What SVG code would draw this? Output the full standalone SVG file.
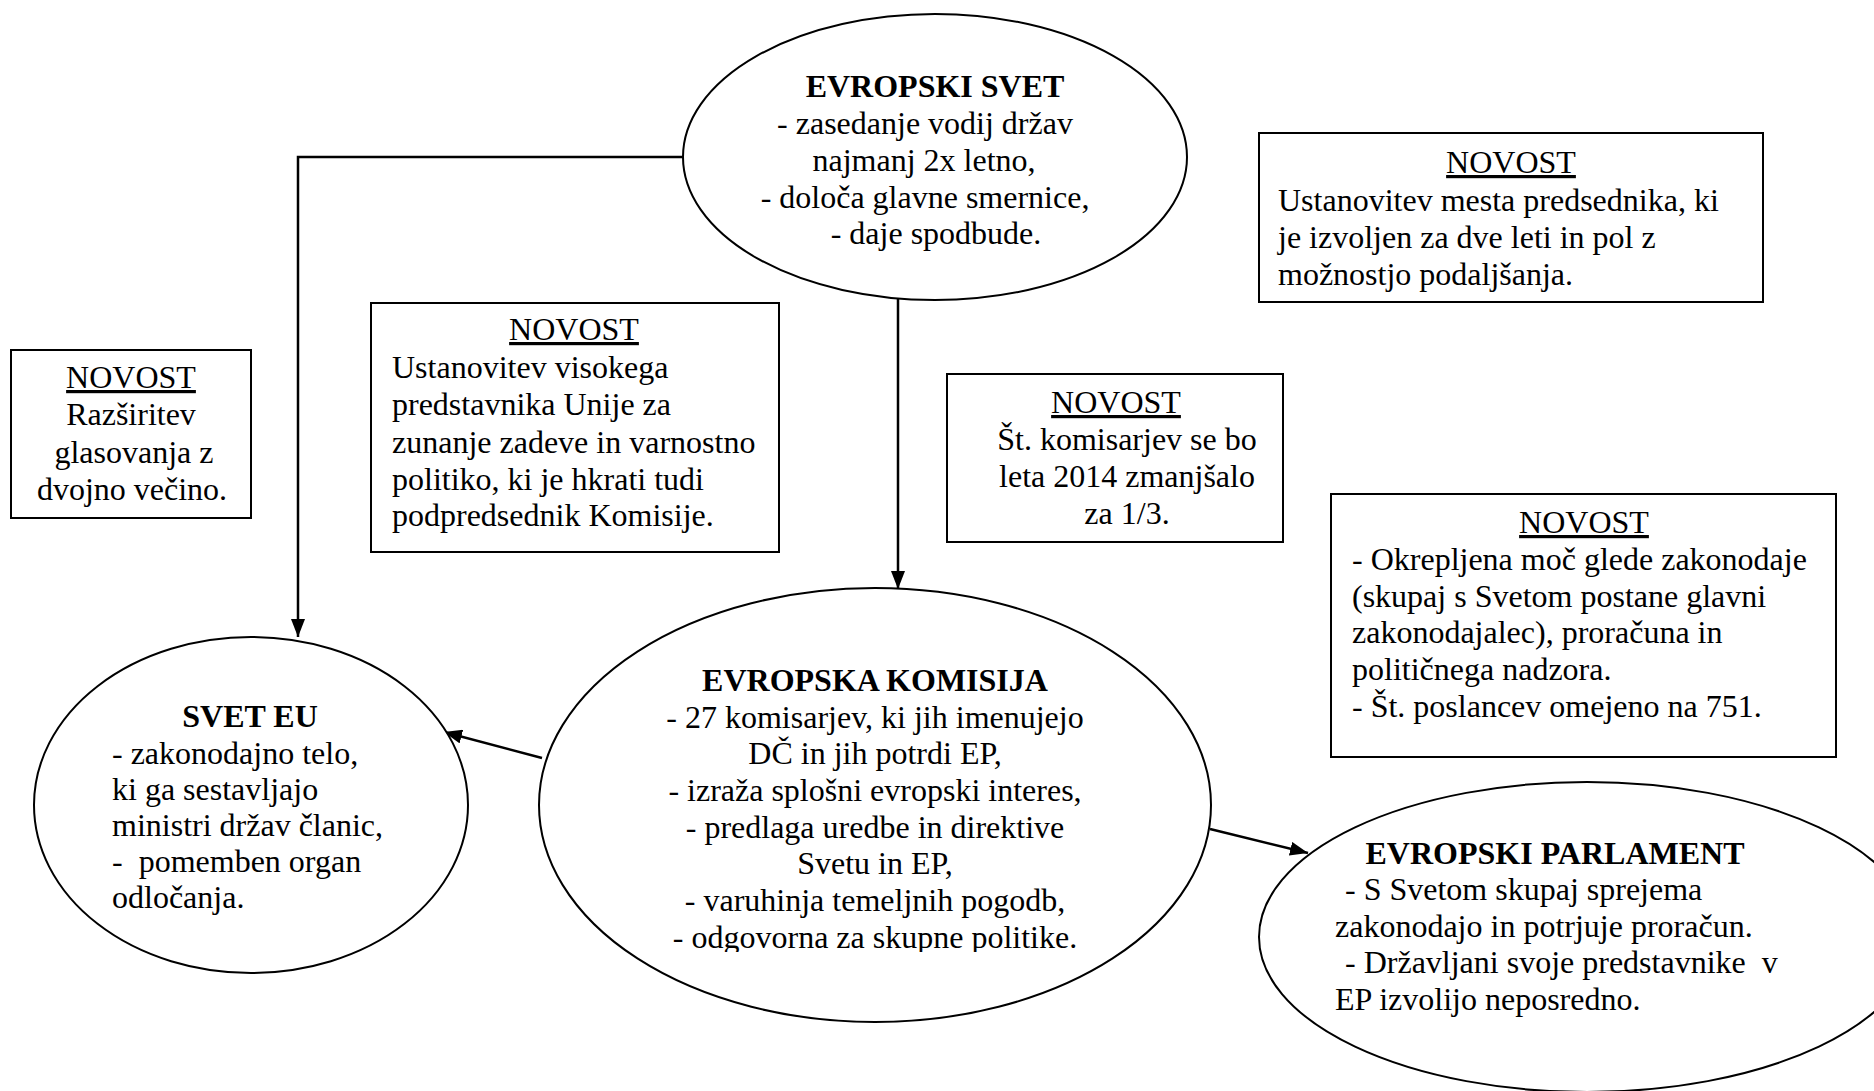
<svg xmlns="http://www.w3.org/2000/svg" width="1874" height="1091" viewBox="0 0 1874 1091">
<style>
.bg{fill:#fff}
.shape{fill:#fff;stroke:#000;stroke-width:2}
.conn{fill:none;stroke:#000;stroke-width:2.5}
text{font-family:"Liberation Serif","Times New Roman",serif;font-size:32px;fill:#000}
.b{font-weight:bold}
.m{text-anchor:middle}
.u{text-decoration:underline}
</style>
<defs>
<marker id="arr" markerUnits="userSpaceOnUse" markerWidth="18" markerHeight="14" refX="18" refY="7" orient="auto">
<path d="M0,0 L18,7 L0,14 z" fill="#000"/>
</marker>
<clipPath id="ekclip"><rect x="530" y="580" width="700" height="372"/></clipPath>
</defs>
<rect class="bg" x="0" y="0" width="1874" height="1091"/>

<g id="connectors">
<polyline class="conn" points="683,157 298,157 298,637" marker-end="url(#arr)"/>
<line class="conn" x1="898" y1="299" x2="898" y2="589" marker-end="url(#arr)"/>
<line class="conn" x1="542" y1="758" x2="444" y2="732" marker-end="url(#arr)"/>
<line class="conn" x1="1210" y1="829" x2="1308" y2="853" marker-end="url(#arr)"/>
</g>

<g id="evropski-svet">
<ellipse class="shape" cx="935" cy="157" rx="252" ry="143"/>
<text class="b m" x="935" y="97">EVROPSKI SVET</text>
<text class="m" x="925" y="134">- zasedanje vodij držav</text>
<text class="m" x="924" y="171">najmanj 2x letno,</text>
<text class="m" x="925" y="208">- določa glavne smernice,</text>
<text class="m" x="936" y="244">- daje spodbude.</text>
</g>

<g id="novost-predsednik">
<rect class="shape" x="1259" y="133" width="504" height="169"/>
<text class="m u" x="1511" y="173">NOVOST</text>
<text x="1278" y="211">Ustanovitev mesta predsednika, ki</text>
<text x="1278" y="248">je izvoljen za dve leti in pol z</text>
<text x="1278" y="285">možnostjo podaljšanja.</text>
</g>

<g id="novost-glasovanje">
<rect class="shape" x="11" y="350" width="240" height="168"/>
<text class="m u" x="131" y="388">NOVOST</text>
<text class="m" x="131" y="425">Razširitev</text>
<text class="m" x="134" y="463">glasovanja z</text>
<text class="m" x="132" y="500">dvojno večino.</text>
</g>

<g id="novost-visoki-predstavnik">
<rect class="shape" x="371" y="303" width="408" height="249"/>
<text class="m u" x="574" y="340">NOVOST</text>
<text x="392" y="378">Ustanovitev visokega</text>
<text x="392" y="415">predstavnika Unije za</text>
<text x="392" y="453">zunanje zadeve in varnostno</text>
<text x="392" y="490">politiko, ki je hkrati tudi</text>
<text x="392" y="526">podpredsednik Komisije.</text>
</g>

<g id="novost-komisarji">
<rect class="shape" x="947" y="374" width="336" height="168"/>
<text class="m u" x="1116" y="413">NOVOST</text>
<text class="m" x="1127" y="450">Št. komisarjev se bo</text>
<text class="m" x="1127" y="487">leta 2014 zmanjšalo</text>
<text class="m" x="1127" y="524">za 1/3.</text>
</g>

<g id="novost-parlament">
<rect class="shape" x="1331" y="494" width="505" height="263"/>
<text class="m u" x="1584" y="533">NOVOST</text>
<text x="1352" y="570">- Okrepljena moč glede zakonodaje</text>
<text x="1352" y="607">(skupaj s Svetom postane glavni</text>
<text x="1352" y="643">zakonodajalec), proračuna in</text>
<text x="1352" y="680">političnega nadzora.</text>
<text x="1352" y="717">- Št. poslancev omejeno na 751.</text>
</g>

<g id="svet-eu">
<ellipse class="shape" cx="251" cy="805" rx="217" ry="168"/>
<text class="b m" x="250" y="727">SVET EU</text>
<text x="112" y="764">- zakonodajno telo,</text>
<text x="112" y="800">ki ga sestavljajo</text>
<text x="112" y="836">ministri držav članic,</text>
<text x="112" y="872" xml:space="preserve">-  pomemben organ</text>
<text x="112" y="908">odločanja.</text>
</g>

<g id="evropska-komisija">
<ellipse class="shape" cx="875" cy="805" rx="336" ry="217"/>
<g clip-path="url(#ekclip)">
<text class="b m" x="875" y="691">EVROPSKA KOMISIJA</text>
<text class="m" x="875" y="728">- 27 komisarjev, ki jih imenujejo</text>
<text class="m" x="875" y="764">DČ in jih potrdi EP,</text>
<text class="m" x="875" y="801">- izraža splošni evropski interes,</text>
<text class="m" x="875" y="838">- predlaga uredbe in direktive</text>
<text class="m" x="875" y="874">Svetu in EP,</text>
<text class="m" x="875" y="911">- varuhinja temeljnih pogodb,</text>
<text class="m" x="875" y="948">- odgovorna za skupne politike.</text>
</g>
</g>

<g id="evropski-parlament">
<ellipse class="shape" cx="1587" cy="937" rx="328" ry="155"/>
<text class="b m" x="1555" y="864">EVROPSKI PARLAMENT</text>
<text x="1345" y="900">- S Svetom skupaj sprejema</text>
<text x="1335" y="937">zakonodajo in potrjuje proračun.</text>
<text x="1345" y="973" xml:space="preserve">- Državljani svoje predstavnike  v</text>
<text x="1335" y="1010">EP izvolijo neposredno.</text>
</g>
</svg>
